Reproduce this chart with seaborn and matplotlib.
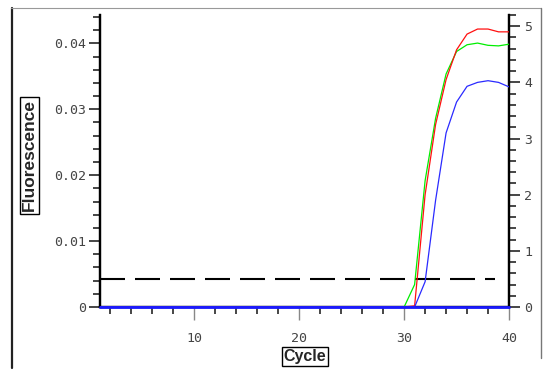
import numpy as np
import pandas as pd
import matplotlib
matplotlib.use('Agg')
import matplotlib.pyplot as plt
from matplotlib.lines import Line2D
from matplotlib.ticker import MultipleLocator, FixedLocator, FixedFormatter
import seaborn as sns

# amplification data (right axis units), one value per cycle
cycles = list(range(1, 41))
red = [0, 0, 0, 0, 0, 0, 0, 0, 0, 0,
       0, 0, 0, 0, 0, 0, 0, 0, 0, 0,
       0, 0, 0, 0, 0, 0, 0, 0, 0, 0,
       0.02, 2.0, 3.25, 4.05, 4.58, 4.86, 4.95, 4.95, 4.90, 4.90]
green = [0, 0, 0, 0, 0, 0, 0, 0, 0, 0,
         0, 0, 0, 0, 0, 0, 0, 0, 0, 0,
         0, 0, 0, 0, 0, 0, 0, 0, 0, 0.0,
         0.4, 2.25, 3.36, 4.15, 4.55, 4.67, 4.70, 4.66, 4.65, 4.68]
blue = [0, 0, 0, 0, 0, 0, 0, 0, 0, 0,
        0, 0, 0, 0, 0, 0, 0, 0, 0, 0,
        0, 0, 0, 0, 0, 0, 0, 0, 0, 0,
        0.0, 0.45, 1.9, 3.1, 3.65, 3.93, 4.0, 4.03, 4.0, 3.92]
ntc = [0, 0, 0, 0, 0, 0, 0, 0, 0, 0,
       0, 0, 0, 0, 0, 0, 0, 0, 0, 0,
       0, 0, 0, 0, 0, 0, 0, 0, 0, 0,
       0, 0, 0, 0, 0, 0, 0, 0, 0, 0]
threshold = 0.5

left_ticks = [0, 0.01, 0.02, 0.03, 0.04]
left_labels = ['0', '0.01', '0.02', '0.03', '0.04']
right_ticks = [0, 1, 2, 3, 4, 5]
x_ticks = [10, 20, 30, 40]

df = pd.DataFrame({
    'Cycle': cycles * 3,
    'Value': green + red + blue,
    'Well': ['green'] * 40 + ['red'] * 40 + ['blue'] * 40,
})
df_ntc = pd.DataFrame({'Cycle': cycles, 'Value': ntc})

sns.set_style('ticks')
plt.rcParams['font.family'] = ['DejaVu Sans Mono']

fig = plt.figure(figsize=(5.52, 3.8), dpi=100)
ax = fig.add_axes([100 / 552, 73 / 380, 409 / 552, 292 / 380])
ax2 = ax.twinx()

ax2.axhline(threshold, xmin=0, xmax=0.965, color='black', lw=1.5,
            linestyle=(0, (12, 4.8)), zorder=1)
sns.lineplot(data=df, x='Cycle', y='Value', hue='Well',
             palette={'green': '#00ee00', 'red': '#ff1010', 'blue': '#2a2aff'},
             hue_order=['green', 'red', 'blue'], linewidth=0.9,
             legend=False, ax=ax2, zorder=3)
sns.lineplot(data=df_ntc, x='Cycle', y='Value', color='#1a1aff',
             linewidth=2.0, ax=ax2, zorder=4, clip_on=False)

ax.set_xlim(1, 40)
ax.set_ylim(0, 0.0443)
ax2.set_ylim(0, 5.2)

ax.xaxis.set_major_locator(FixedLocator(x_ticks))
ax.xaxis.set_minor_locator(MultipleLocator(2))
ax.yaxis.set_major_locator(FixedLocator(left_ticks))
ax.yaxis.set_major_formatter(FixedFormatter(left_labels))
ax.yaxis.set_minor_locator(MultipleLocator(0.002))
ax2.yaxis.set_major_locator(FixedLocator(right_ticks))
ax2.yaxis.set_minor_locator(MultipleLocator(0.2))

lab_col = '#444444'
ax.tick_params(axis='y', which='major', length=8, width=1.2, pad=2,
               labelsize=9.5, labelcolor=lab_col)
ax.tick_params(axis='y', which='minor', length=5, width=1.2)
ax.tick_params(axis='x', which='major', length=9, width=1.0, pad=9,
               labelsize=9.5, labelcolor=lab_col, color='#888888')
ax.tick_params(axis='x', which='minor', length=5, width=1.2)
ax2.tick_params(axis='y', which='major', length=8, width=1.2, pad=3,
                labelsize=9.5, labelcolor=lab_col)
ax2.tick_params(axis='y', which='minor', length=5, width=1.2)

for a in (ax, ax2):
    a.spines['top'].set_visible(False)
    for s in ('left', 'right', 'bottom'):
        a.spines[s].set_linewidth(1.6)
        a.spines[s].set_color('black')
ax2.set_ylabel('')
ax2.set_xlabel('')

box = dict(boxstyle='square,pad=0.12', fc='white', ec='black', lw=1)
ax.set_xlabel('Cycle', family='Liberation Sans', fontweight='bold',
              fontsize=11.5, bbox=box)
ax.xaxis.set_label_coords(0.501, -0.145)
ax.set_ylabel('Fluorescence', family='Liberation Sans', fontweight='bold',
              fontsize=12.5, bbox=box)
ax.yaxis.set_label_coords(-0.155, 0.519)

# outer frame
fig.add_artist(Line2D([11.5 / 552, 11.5 / 552], [1 - 8 / 380, 1 - 368 / 380],
                      transform=fig.transFigure, color='#222222', lw=1.6))
fig.add_artist(Line2D([11 / 552, 541 / 552], [1 - 8 / 380, 1 - 8 / 380],
                      transform=fig.transFigure, color='#999999', lw=0.8))
fig.add_artist(Line2D([541 / 552, 541 / 552], [1 - 8 / 380, 1 - 358 / 380],
                      transform=fig.transFigure, color='#777777', lw=1.0))

fig.savefig('out.png', dpi=100)
